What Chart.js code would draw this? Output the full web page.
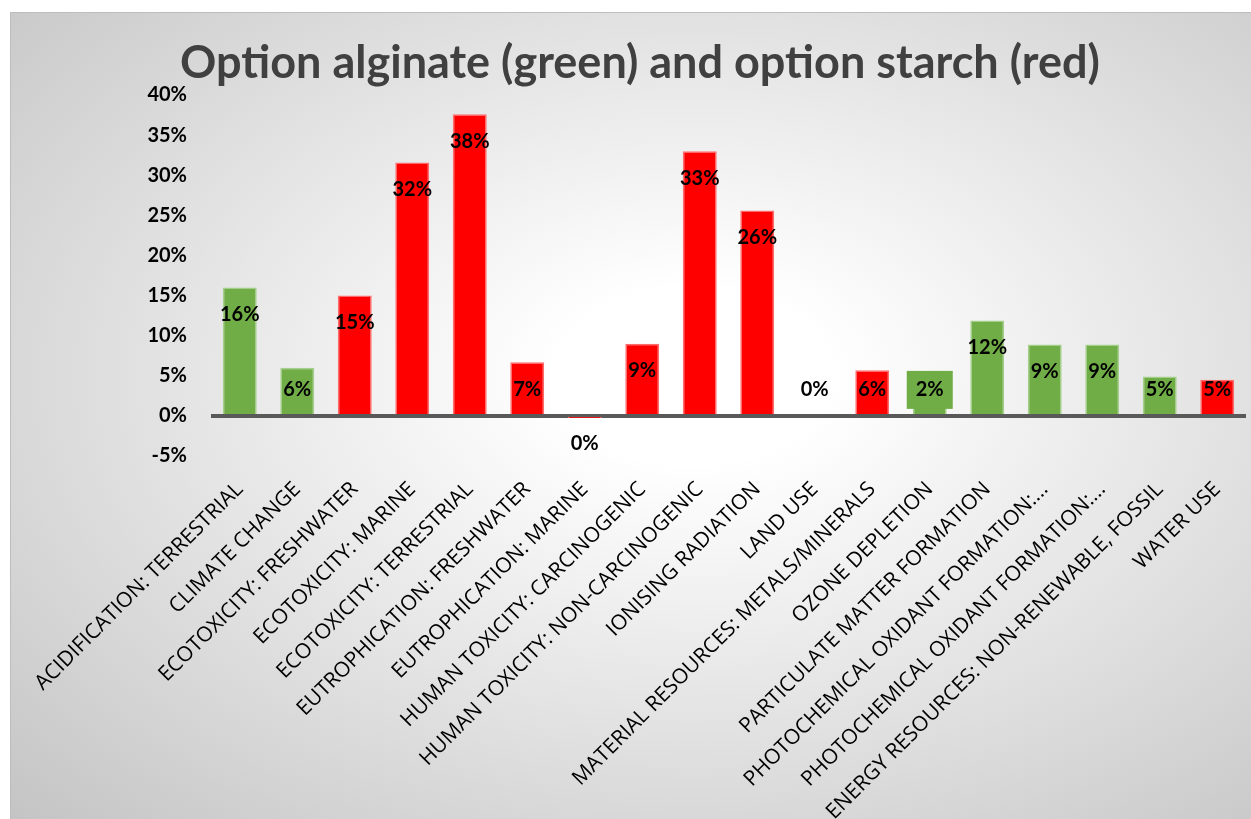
<!DOCTYPE html>
<html>
<head>
<meta charset="utf-8">
<script src="https://cdn.jsdelivr.net/npm/chart.js@4.4.0/dist/chart.umd.min.js"></script>
<style>
  html, body { margin: 0; padding: 0; background: #fff; }
  #frame {
    position: absolute; left: 10px; top: 12px; width: 1241px; height: 807px;
    border-left: 1px solid #bdbdbd; border-top: 1px solid #bdbdbd;
    background: radial-gradient(ellipse farthest-corner at 55% 45%, #ffffff 0%, #ffffff 14%, #c4c4c4 100%);
  }
  #wrap { position: absolute; left: 0; top: 0; width: 1251px; height: 819px; }
</style>
</head>
<body>
<div id="frame"></div>
<div id="wrap"><canvas id="myChart"></canvas></div>
<script>
// categories and values (% difference)
var categories = [
  "ACIDIFICATION: TERRESTRIAL",
  "CLIMATE CHANGE",
  "ECOTOXICITY: FRESHWATER",
  "ECOTOXICITY: MARINE",
  "ECOTOXICITY: TERRESTRIAL",
  "EUTROPHICATION: FRESHWATER",
  "EUTROPHICATION: MARINE",
  "HUMAN TOXICITY: CARCINOGENIC",
  "HUMAN TOXICITY: NON-CARCINOGENIC",
  "IONISING RADIATION",
  "LAND USE",
  "MATERIAL RESOURCES: METALS/MINERALS",
  "OZONE DEPLETION",
  "PARTICULATE MATTER FORMATION",
  "PHOTOCHEMICAL OXIDANT FORMATION:...",
  "PHOTOCHEMICAL OXIDANT FORMATION:...",
  "ENERGY RESOURCES: NON-RENEWABLE, FOSSIL",
  "WATER USE"
];
var impact = [16.0, 6.0, 15.0, 31.6, 37.6, 6.7, -0.1, 9.0, 33.0, 25.6, 0, 5.7, 2.0, 11.9, 8.9, 8.9, 4.9, 4.5];
var betterOption = ["alginate", "alginate", "starch", "starch", "starch", "starch", "starch", "starch", "starch",
  "starch", "starch", "starch", "alginate", "alginate", "alginate", "alginate", "alginate", "starch"];

var yMin = -5;
var yMax = 40;
var yStep = 5;

var fillFor = { alginate: "#70ad47", starch: "#ff0000" };
var edgeFor = { alginate: "#a4cf8a", starch: "#ff6b6b" };
// labels drawn on a filled box (ozone depletion)
var boxedLabel = { 12: "#70ad47" };

// data labels, Excel style "inside end"
var barLabels = {
  id: "barLabels",
  afterDatasetsDraw: function(chart) {
    var ctx = chart.ctx;
    var y = chart.scales.y;
    var zero = y.getPixelForValue(0);
    var meta = chart.getDatasetMeta(0);
    ctx.save();
    ctx.font = "bold 20px Lato";
    ctx.textAlign = "center";
    ctx.textBaseline = "middle";
    meta.data.forEach(function(bar, i) {
      var v = impact[i];
      var end = y.getPixelForValue(v);
      var ly = v >= 0 ? Math.min(end + 27, zero - 26) : end + 27;
      var txt = Math.round(v) + "%";
      if (boxedLabel[i]) {
        ctx.fillStyle = boxedLabel[i];
        ctx.fillRect(bar.x - 23, ly - 19, 46, 38);
      }
      ctx.fillStyle = "#000";
      ctx.fillText(txt, bar.x, ly);
    });
    ctx.restore();
  }
};

var ctx = document.getElementById("myChart");
var myChart = new Chart(ctx, {
  type: "bar",
  data: {
    labels: categories,
    datasets: [{
      label: "Difference",
      data: impact,
      backgroundColor: betterOption.map(function(o) { return fillFor[o]; }),
      borderColor: betterOption.map(function(o) { return edgeFor[o]; }),
      borderWidth: 1.5,
      barPercentage: 0.59,
      categoryPercentage: 1
    }]
  },
  options: {
    responsive: true,
    maintainAspectRatio: false,
    animation: false,
    layout: { padding: { left: 34, right: 5, top: 0, bottom: 0 } },
    plugins: {
      legend: { display: false },
      tooltip: { enabled: false },
      title: {
        display: true,
        text: "Option alginate (green) and option starch (red)",
        color: "#404040",
        font: { family: "Lato", size: 45, weight: "bold" },
        padding: { top: 36, bottom: 5 }
      }
    },
    scales: {
      x: {
        grid: { display: false, drawTicks: false },
        border: { display: false },
        ticks: {
          autoSkip: false,
          maxRotation: 45,
          minRotation: 45,
          padding: 21,
          color: "#000",
          font: { family: "'Open Sans'", size: 21 }
        },
        afterFit: function(scale) {
          scale.height = 363;
          scale.paddingLeft = 0;
          scale.paddingRight = 0;
        }
      },
      y: {
        min: yMin,
        max: yMax,
        border: { display: false },
        grid: {
          drawTicks: false,
          color: function(c) { return c.tick && c.tick.value === 0 ? "#595959" : "rgba(0,0,0,0)"; },
          lineWidth: function(c) { return c.tick && c.tick.value === 0 ? 4 : 0; }
        },
        ticks: {
          stepSize: yStep,
          padding: 24,
          color: "#000",
          font: { family: "Lato", size: 20, weight: "bold" },
          callback: function(v) { return v + "%"; }
        },
        afterFit: function(scale) {
          scale.width = 177;
          scale.paddingTop = 0;
          scale.paddingBottom = 0;
        }
      }
    }
  },
  plugins: [barLabels]
});
</script>
</body>
</html>
